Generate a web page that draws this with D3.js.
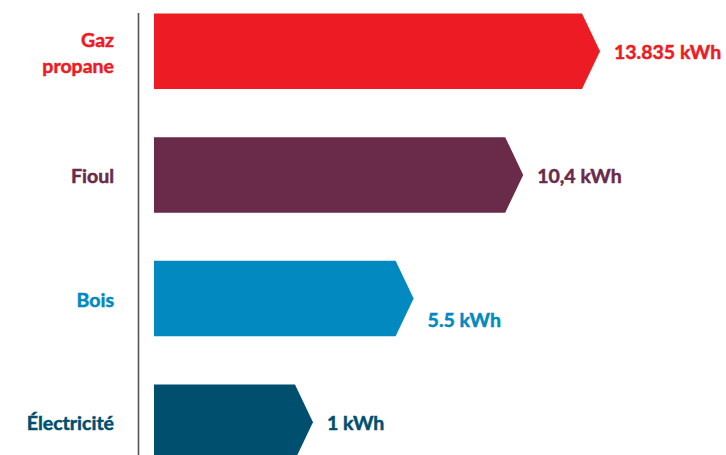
<!DOCTYPE html>
<html>
<head>
<meta charset="utf-8">
<script src="https://cdn.jsdelivr.net/npm/d3@7"></script>
<style>
  html, body { margin: 0; padding: 0; background: #fff; }
  text { font-family: Lato, "Open Sans", sans-serif; font-weight: 700; }
</style>
</head>
<body>
<div id="chart"></div>
<script>
const categories = ["Gaz propane", "Fioul", "Bois", "Électricité"];
const values = [13.835, 10.4, 5.5, 1];
const valueLabels = ["13.835 kWh", "10,4 kWh", "5.5 kWh", "1 kWh"];
const colors = ["#ed1c24", "#6a2a49", "#0289c0", "#004f6f"];

const W = 726, H = 455;
const barLeft = 154, axisX = 138.5, tip = 18;

const svg = d3.select("#chart").append("svg")
    .attr("width", W).attr("height", H);

// bars start at a fixed left edge, their length follows the scale
const x = d3.scaleLinear().domain([0, 14]).range([272.6, 585.7]);
const y = d3.scaleBand().domain(categories)
    .range([13.5, 460]).paddingInner(0.39).paddingOuter(0);

const data = categories.map((c, i) => ({cat: c, value: values[i], label: valueLabels[i], color: colors[i]}));

svg.append("line")
    .attr("x1", axisX).attr("x2", axisX)
    .attr("y1", 13).attr("y2", H)
    .attr("stroke", "#555").attr("stroke-width", 1.6);

const g = svg.selectAll(".bar").data(data).enter().append("g").attr("class", "bar");

g.append("path")
    .attr("fill", d => d.color)
    .attr("d", d => {
        const t = y(d.cat), b = t + y.bandwidth(), m = t + y.bandwidth() / 2, xr = x(d.value);
        return `M${barLeft},${t}H${xr}L${xr + tip},${m}L${xr},${b}H${barLeft}Z`;
    });

g.append("text")
    .attr("x", d => x(d.value) + tip + 14)
    .attr("y", d => y(d.cat) + y.bandwidth() / 2 + 8 + (d.cat === "Bois" ? 20 : 0))
    .attr("fill", d => d.color)
    .attr("stroke", d => d.color).attr("stroke-width", 0.5)
    .style("font-size", "19.5px")
    .text(d => d.label);

const cl = g.append("text")
    .attr("text-anchor", "end")
    .attr("fill", d => d.color)
    .attr("stroke", d => d.color).attr("stroke-width", 0.5)
    .style("font-size", "19.5px")
    .attr("y", d => y(d.cat) + y.bandwidth() / 2 + 8);

cl.each(function(d) {
    const words = d.cat.split(" ");
    const el = d3.select(this);
    words.forEach((w, i) => {
        el.append("tspan")
          .attr("x", 114)
          .attr("dy", i === 0 ? (words.length > 1 ? -12.5 : 0) : 26)
          .text(w);
    });
});
</script>
</body>
</html>
